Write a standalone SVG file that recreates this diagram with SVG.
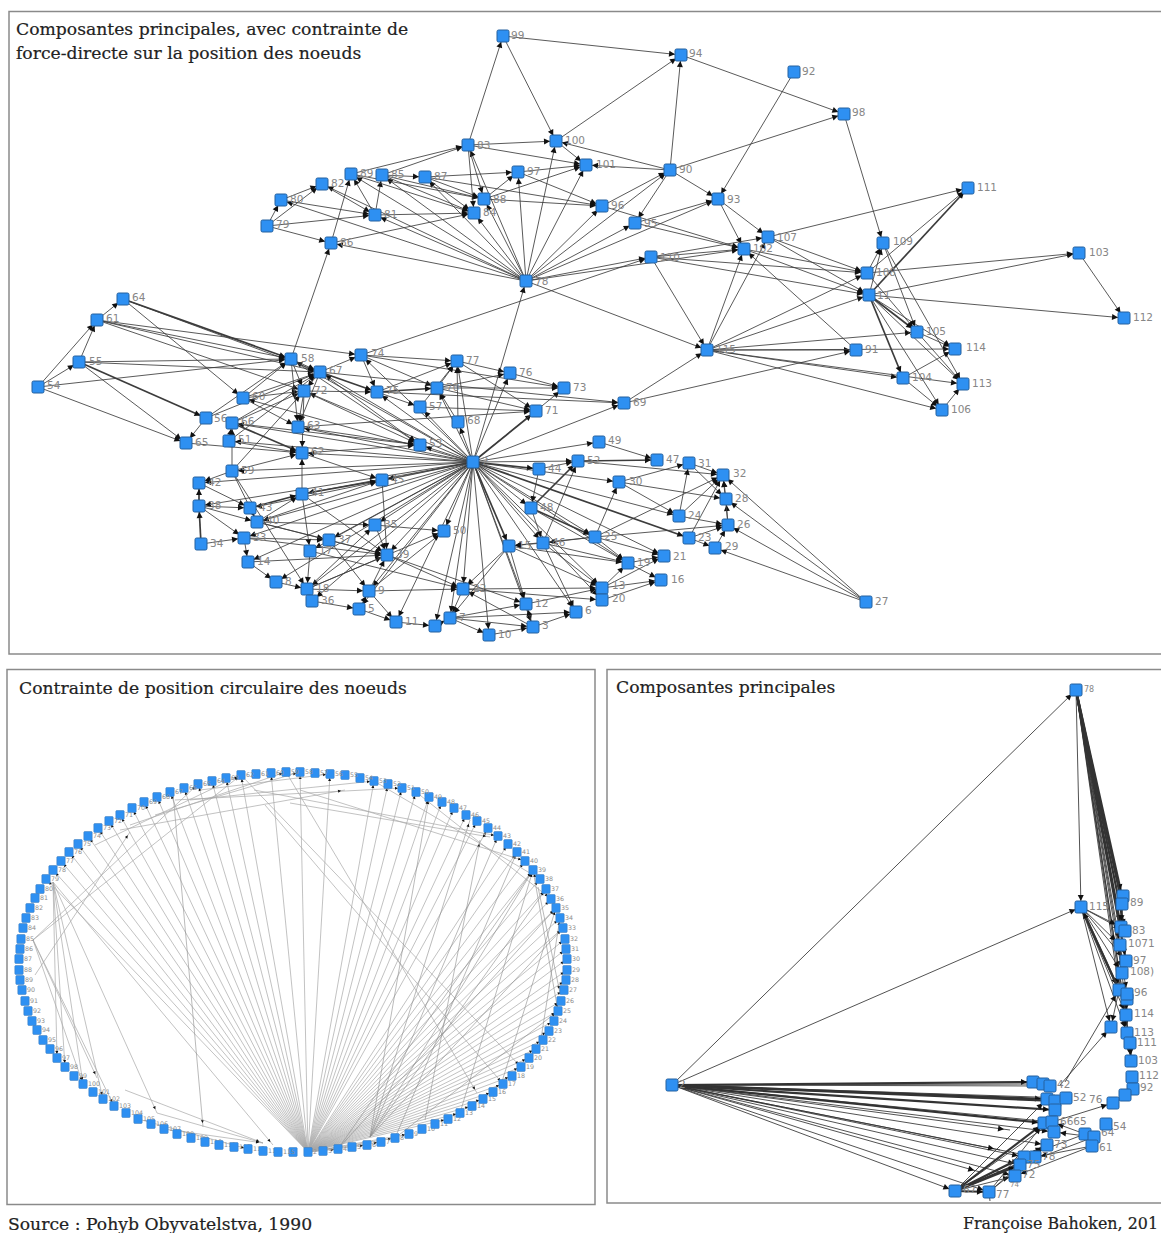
<svg xmlns="http://www.w3.org/2000/svg" width="1161" height="1233" viewBox="0 0 1161 1233">
<style>
.t{font-family:"DejaVu Serif","Liberation Serif",serif;font-size:17.2px;fill:#222;stroke:#222;stroke-width:.2}
.fr{fill:none;stroke:#8a8a8a;stroke-width:1.5}
.nl text{font-family:"DejaVu Sans",sans-serif;font-size:10.5px;fill:#868686}
#cn text{font-family:"DejaVu Sans",sans-serif;font-size:6.3px;fill:#8c8c8c}
#tc path{fill:none;stroke:#3c3c3c;stroke-width:.85;marker-end:url(#a)}
#tc path.h{stroke-width:1.7}
#cc path{fill:none;stroke:#a8a8a8;stroke-width:.7;marker-end:url(#b)}
#cc path.d{stroke:#8c8c8c;stroke-width:.6}
#rc path{fill:none;stroke:#333;stroke-width:.85;marker-end:url(#a)}
#rc path.h{stroke-width:2.2}
</style>
<defs>
<rect id="s" x="-6" y="-6" width="12" height="12" rx="1.6" fill="#2e90f2" stroke="#24609e" stroke-width="1"/>
<rect id="q" x="-4.2" y="-4.5" width="8.4" height="9" rx="1" fill="#2e90f2" stroke="#3a78b8" stroke-width=".5"/>
<marker id="a" markerUnits="userSpaceOnUse" markerWidth="6" markerHeight="6" refX="12" refY="3" orient="auto" overflow="visible"><path d="M0 0L6 3L0 6z" fill="#111"/></marker>
<marker id="b" markerUnits="userSpaceOnUse" markerWidth="3" markerHeight="3" refX="7" refY="1.5" orient="auto" overflow="visible"><path d="M0 0L3 1.5L0 3z" fill="#111"/></marker>
</defs>
<rect width="1161" height="1233" fill="#fff"/>
<path class="fr" d="M1161 11.500H9V654H1161"/>
<rect class="fr" x="7" y="669.500" width="588" height="535"/>
<path class="fr" d="M1161 669.500H607V1203H1161"/>
<text class="t" x="16" y="35">Composantes principales, avec contrainte de</text>
<text class="t" x="16" y="59">force-directe sur la position des noeuds</text>
<text class="t" x="19" y="694">Contrainte de position circulaire des noeuds</text>
<text class="t" x="616" y="693">Composantes principales</text>
<text class="t" x="8" y="1230">Source : Pohyb Obyvatelstva, 1990</text>
<text class="t" x="963" y="1229" textLength="195" lengthAdjust="spacingAndGlyphs">Françoise Bahoken, 201</text>

<g id="tc">
<path d="M503 36L681 55"/><path d="M468 145L503 36"/><path d="M503 36L556 141"/><path d="M556 141L681 55"/><path d="M670 170L681 55"/><path d="M681 55L844 114"/><path d="M844 114L883 243"/><path d="M794 72L718 199"/><path d="M670 170L844 114"/><path d="M468 145L556 141"/><path d="M468 145L586 165"/><path d="M556 141L586 165"/><path d="M670 170L556 141"/><path d="M670 170L586 165"/><path d="M351 174L468 145"/><path d="M382 175L468 145"/>
<path d="M526 281L556 141"/><path d="M526 281L586 165"/><path d="M526 281L518 172"/><path d="M526 281L468 145"/><path d="M526 281L484 199"/><path d="M526 281L474 213"/><path d="M526 281L425 177"/><path d="M526 281L382 175"/><path d="M526 281L351 174"/><path d="M526 281L322 184"/><path d="M526 281L375 215"/><path d="M526 281L281 200"/><path d="M526 281L331 243"/><path d="M526 281L602 206"/><path d="M526 281L635 223"/><path d="M526 281L670 170"/><path d="M526 281L718 199"/><path d="M526 281L744 249"/><path d="M526 281L651 257"/><path d="M526 281L707 350"/><path d="M473 462L526 281"/>
<path d="M291 359L331 243"/><path d="M331 243L351 174"/><path d="M267 226L281 200"/><path d="M281 200L322 184"/><path d="M267 226L322 184"/><path d="M322 184L375 215"/><path d="M375 215L351 174"/><path d="M375 215L382 175"/><path d="M281 200L375 215"/><path d="M267 226L375 215"/><path d="M267 226L331 243"/><path d="M375 215L474 213"/><path d="M425 177L474 213"/><path d="M425 177L484 199"/><path d="M425 177L518 172"/><path d="M382 175L425 177"/><path d="M382 175L474 213"/><path d="M382 175L484 199"/><path d="M351 174L484 199"/><path d="M351 174L474 213"/><path d="M468 145L484 199"/><path d="M468 145L474 213"/><path d="M484 199L586 165"/><path d="M484 199L518 172"/><path d="M484 199L602 206"/><path d="M425 177L602 206"/><path d="M331 243L474 213"/><path d="M518 172L602 206"/><path d="M518 172L586 165"/><path d="M602 206L744 249"/><path d="M635 223L718 199"/><path d="M635 223L744 249"/><path d="M670 170L718 199"/><path d="M670 170L635 223"/><path d="M602 206L670 170"/><path d="M718 199L744 249"/><path d="M718 199L768 237"/>
<path d="M768 237L867 273"/><path d="M768 237L869 295"/><path d="M768 237L968 188"/><path d="M744 249L867 273"/><path d="M744 249L869 295"/><path d="M651 257L744 249"/><path d="M651 257L768 237"/><path d="M651 257L869 295"/><path d="M651 257L707 350"/><path d="M651 257L867 273"/><path d="M707 350L744 249"/><path d="M707 350L768 237"/><path d="M707 350L869 295"/><path d="M707 350L867 273"/><path d="M707 350L917 332"/><path d="M707 350L856 350"/><path d="M707 350L955 349"/><path d="M707 350L903 378"/><path d="M707 350L942 410"/><path d="M707 350L963 384"/><path d="M869 295L883 243"/><path d="M869 295L968 188" class="h"/><path d="M867 273L968 188"/><path d="M867 273L883 243"/><path d="M869 295L1079 253"/><path d="M867 273L1079 253"/><path d="M1079 253L1124 318"/><path d="M869 295L1124 318"/><path d="M869 295L917 332" class="h"/><path d="M867 273L917 332"/><path d="M869 295L955 349"/><path d="M869 295L963 384"/><path d="M869 295L903 378" class="h"/><path d="M869 295L942 410"/><path d="M883 243L963 384"/><path d="M883 243L917 332"/><path d="M917 332L955 349"/><path d="M917 332L963 384"/><path d="M903 378L942 410"/><path d="M856 350L744 249"/><path d="M903 378L955 349"/><path d="M942 410L963 384"/><path d="M624 403L707 350"/><path d="M624 403L856 350"/><path d="M361 355L651 257"/>
<path d="M473 462L420 445"/><path d="M473 462L458 422"/><path d="M473 462L420 407"/><path d="M473 462L437 388"/><path d="M473 462L377 392"/><path d="M473 462L457 361"/><path d="M473 462L510 373"/><path d="M473 462L536 411" class="h"/><path d="M473 462L624 403"/><path d="M473 462L361 355"/><path d="M473 462L564 388"/><path d="M473 462L320 372"/><path d="M473 462L304 391"/><path d="M473 462L291 359"/><path d="M473 462L243 398"/><path d="M473 462L298 427"/><path d="M473 462L302 453"/><path d="M473 462L232 423"/><path d="M473 462L229 441"/><path d="M473 462L232 471"/><path d="M473 462L382 480"/><path d="M473 462L302 494"/><path d="M473 462L250 508"/><path d="M473 462L257 522"/><path d="M473 462L244 538"/><path d="M473 462L199 506"/><path d="M473 462L199 483"/><path d="M473 462L375 525"/><path d="M473 462L444 531"/><path d="M473 462L329 540"/><path d="M473 462L310 551"/><path d="M473 462L387 555"/><path d="M473 462L248 562"/><path d="M473 462L307 589"/><path d="M473 462L276 582"/><path d="M473 462L312 601"/><path d="M473 462L369 591"/><path d="M473 462L359 609"/><path d="M473 462L396 622"/><path d="M473 462L435 626"/><path d="M473 462L450 618"/><path d="M473 462L489 635"/><path d="M473 462L463 589"/><path d="M473 462L533 627"/><path d="M473 462L526 604"/><path d="M473 462L576 612"/><path d="M473 462L509 546" class="h"/><path d="M473 462L543 543"/><path d="M473 462L531 508"/><path d="M473 462L539 469" class="h"/><path d="M473 462L578 461"/><path d="M473 462L599 442"/><path d="M473 462L619 482"/><path d="M473 462L595 537"/><path d="M473 462L679 516"/><path d="M473 462L689 538" class="h"/><path d="M473 462L602 588"/><path d="M473 462L602 600"/><path d="M473 462L628 563"/><path d="M473 462L664 556"/>
<path d="M38 387L97 320"/><path d="M38 387L79 362"/><path d="M79 362L97 320"/><path d="M97 320L123 299"/><path d="M38 387L186 443"/><path d="M123 299L291 359" class="h"/><path d="M123 299L320 372"/><path d="M123 299L243 398"/><path d="M97 320L291 359"/><path d="M97 320L320 372"/><path d="M97 320L304 391"/><path d="M97 320L361 355"/><path d="M79 362L291 359"/><path d="M79 362L320 372"/><path d="M79 362L206 418" class="h"/><path d="M79 362L186 443"/><path d="M206 418L186 443"/><path d="M38 387L291 359"/><path d="M243 398L291 359"/><path d="M243 398L320 372"/><path d="M243 398L304 391"/><path d="M243 398L298 427"/><path d="M206 418L291 359"/><path d="M206 418L320 372"/><path d="M232 423L320 372"/><path d="M232 423L304 391"/><path d="M232 423L302 453" class="h"/><path d="M232 423L420 445"/><path d="M229 441L302 453"/><path d="M186 443L302 453"/><path d="M229 441L320 372"/><path d="M232 471L304 391"/><path d="M232 471L302 453"/><path d="M232 471L232 423"/><path d="M229 441L232 423"/><path d="M291 359L320 372"/><path d="M291 359L304 391"/><path d="M291 359L298 427"/><path d="M304 391L298 427"/><path d="M320 372L304 391"/><path d="M320 372L298 427"/><path d="M320 372L377 392" class="h"/><path d="M320 372L361 355"/><path d="M361 355L457 361"/><path d="M361 355L377 392"/><path d="M361 355L437 388"/><path d="M361 355L564 388"/><path d="M377 392L437 388" class="h"/><path d="M377 392L420 407"/><path d="M377 392L457 361"/><path d="M437 388L457 361"/><path d="M420 407L457 361"/><path d="M458 422L457 361"/><path d="M458 422L437 388"/><path d="M437 388L510 373"/><path d="M510 373L564 388"/><path d="M457 361L510 373"/><path d="M457 361L536 411"/><path d="M437 388L536 411"/><path d="M437 388L564 388"/><path d="M420 407L536 411"/><path d="M377 392L624 403"/><path d="M320 372L624 403"/><path d="M304 391L420 445"/><path d="M298 427L420 445"/><path d="M298 427L536 411"/><path d="M304 391L377 392"/><path d="M304 391L302 453"/><path d="M291 359L420 445"/><path d="M320 372L420 445"/><path d="M302 453L420 445"/><path d="M302 453L382 480"/><path d="M302 494L302 453"/><path d="M302 494L382 480" class="h"/><path d="M232 471L199 483"/><path d="M199 483L250 508"/><path d="M199 506L199 483" class="h"/><path d="M201 544L199 506" class="h"/><path d="M199 506L250 508"/><path d="M199 506L257 522"/><path d="M199 506L244 538"/><path d="M250 508L302 494" class="h"/><path d="M257 522L302 494"/><path d="M257 522L382 480"/><path d="M257 522L375 525"/><path d="M257 522L329 540"/><path d="M201 544L244 538"/><path d="M244 538L248 562"/><path d="M248 562L276 582"/><path d="M276 582L307 589"/><path d="M307 589L312 601"/><path d="M312 601L359 609"/><path d="M359 609L369 591"/><path d="M359 609L396 622"/><path d="M369 591L396 622"/><path d="M307 589L369 591"/><path d="M232 471L257 522"/><path d="M232 471L307 589"/><path d="M310 551L307 589"/><path d="M302 494L310 551"/><path d="M244 538L329 540"/><path d="M244 538L387 555"/><path d="M329 540L387 555"/><path d="M329 540L369 591"/><path d="M248 562L387 555"/><path d="M257 522L387 555"/><path d="M302 494L387 555"/><path d="M382 480L387 555"/><path d="M375 525L387 555"/><path d="M375 525L444 531"/><path d="M307 589L387 555"/><path d="M307 589L375 525"/><path d="M307 589L444 531"/><path d="M369 591L387 555"/><path d="M369 591L444 531"/><path d="M369 591L463 589"/><path d="M310 551L463 589"/><path d="M387 555L463 589"/><path d="M387 555L526 604"/>
<path d="M396 622L435 626"/><path d="M435 626L450 618"/><path d="M450 618L489 635"/><path d="M450 618L533 627"/><path d="M450 618L526 604"/><path d="M450 618L576 612"/><path d="M489 635L533 627"/><path d="M533 627L526 604"/><path d="M533 627L576 612"/><path d="M526 604L602 588"/><path d="M463 589L602 588"/><path d="M463 589L602 600"/><path d="M463 589L450 618"/><path d="M533 627L463 589"/><path d="M509 546L463 589"/><path d="M509 546L526 604"/><path d="M509 546L450 618"/><path d="M543 543L509 546"/><path d="M509 546L628 563"/><path d="M509 546L602 588"/><path d="M543 543L602 588"/><path d="M543 543L576 612"/><path d="M543 543L628 563"/><path d="M595 537L543 543"/><path d="M595 537L509 546"/><path d="M595 537L619 482"/><path d="M595 537L664 556"/><path d="M595 537L628 563"/><path d="M531 508L595 537" class="h"/><path d="M539 469L531 508"/><path d="M539 469L578 461"/><path d="M531 508L578 461" class="h"/><path d="M543 543L578 461"/><path d="M531 508L543 543"/><path d="M578 461L657 460" class="h"/><path d="M599 442L657 460"/><path d="M578 461L723 475"/><path d="M619 482L689 463"/><path d="M619 482L679 516"/><path d="M619 482L726 499"/><path d="M679 516L689 463"/><path d="M679 516L723 475"/><path d="M679 516L728 525"/><path d="M689 538L723 475"/><path d="M689 538L728 525"/><path d="M689 538L715 548"/><path d="M715 548L728 525"/><path d="M728 525L726 499"/><path d="M728 525L723 475"/><path d="M726 499L723 475"/><path d="M689 463L723 475"/><path d="M689 463L726 499"/><path d="M595 537L723 475"/><path d="M595 537L728 525"/><path d="M866 602L726 499"/><path d="M866 602L723 475"/><path d="M866 602L728 525"/><path d="M866 602L715 548"/><path d="M628 563L664 556"/><path d="M602 588L664 556"/><path d="M602 600L661 580"/><path d="M602 588L661 580"/><path d="M628 563L661 580"/><path d="M602 588L628 563"/><path d="M602 600L602 588"/><path d="M531 508L628 563"/>
</g>

<g id="tn" class="nl">
<g id="n99"><use href="#s" x="503" y="36"/><text x="511" y="39">99</text></g>
<g id="n94"><use href="#s" x="681" y="55"/><text x="689" y="57">94</text></g>
<g id="n92"><use href="#s" x="794" y="72"/><text x="802" y="75">92</text></g>
<g id="n98"><use href="#s" x="844" y="114"/><text x="852" y="116">98</text></g>
<g id="n83"><use href="#s" x="468" y="145"/><text x="477" y="149">83</text></g>
<g id="n100"><use href="#s" x="556" y="141"/><text x="565" y="144">100</text></g>
<g id="n101"><use href="#s" x="586" y="165"/><text x="596" y="168">101</text></g>
<g id="n90"><use href="#s" x="670" y="170"/><text x="679" y="173">90</text></g>
<g id="n97"><use href="#s" x="518" y="172"/><text x="527" y="175">97</text></g>
<g id="n89"><use href="#s" x="351" y="174"/><text x="360" y="177">89</text></g>
<g id="n85"><use href="#s" x="382" y="175"/><text x="391" y="178">85</text></g>
<g id="n87"><use href="#s" x="425" y="177"/><text x="434" y="180">87</text></g>
<g id="n82"><use href="#s" x="322" y="184"/><text x="331" y="187">82</text></g>
<g id="n80"><use href="#s" x="281" y="200"/><text x="290" y="203">80</text></g>
<g id="n88"><use href="#s" x="484" y="199"/><text x="493" y="203">88</text></g>
<g id="n93"><use href="#s" x="718" y="199"/><text x="727" y="203">93</text></g>
<g id="n96"><use href="#s" x="602" y="206"/><text x="611" y="209">96</text></g>
<g id="n81"><use href="#s" x="375" y="215"/><text x="384" y="218">81</text></g>
<g id="n84"><use href="#s" x="474" y="213"/><text x="483" y="216">84</text></g>
<g id="n95"><use href="#s" x="635" y="223"/><text x="644" y="227">95</text></g>
<g id="n79"><use href="#s" x="267" y="226"/><text x="276" y="228">79</text></g>
<g id="n86"><use href="#s" x="331" y="243"/><text x="340" y="246">86</text></g>
<g id="n111"><use href="#s" x="968" y="188"/><text x="977" y="191">111</text></g>
<g id="n109"><use href="#s" x="883" y="243"/><text x="893" y="245">109</text></g>
<g id="n107"><use href="#s" x="768" y="237"/><text x="777" y="241">107</text></g>
<g id="n102"><use href="#s" x="744" y="249"/><text x="753" y="252">102</text></g>
<g id="n110"><use href="#s" x="651" y="257"/><text x="660" y="261">110</text></g>
<g id="n103"><use href="#s" x="1079" y="253"/><text x="1089" y="256">103</text></g>
<g id="n108"><use href="#s" x="867" y="273"/><text x="876" y="276">108</text></g>
<g id="n78"><use href="#s" x="526" y="281"/><text x="535" y="285">78</text></g>
<g id="n11b"><use href="#s" x="869" y="295"/><text x="877" y="299">11</text></g>
<g id="n112"><use href="#s" x="1124" y="318"/><text x="1133" y="321">112</text></g>
<g id="n105"><use href="#s" x="917" y="332"/><text x="926" y="335">105</text></g>
<g id="n64"><use href="#s" x="123" y="299"/><text x="132" y="301">64</text></g>
<g id="n61"><use href="#s" x="97" y="320"/><text x="106" y="322">61</text></g>
<g id="n115"><use href="#s" x="707" y="350"/><text x="716" y="353">115</text></g>
<g id="n91"><use href="#s" x="856" y="350"/><text x="865" y="353">91</text></g>
<g id="n114"><use href="#s" x="955" y="349"/><text x="966" y="351">114</text></g>
<g id="n58"><use href="#s" x="291" y="359"/><text x="301" y="362">58</text></g>
<g id="n74"><use href="#s" x="361" y="355"/><text x="371" y="357">74</text></g>
<g id="n77"><use href="#s" x="457" y="361"/><text x="466" y="364">77</text></g>
<g id="n67"><use href="#s" x="320" y="372"/><text x="329" y="374">67</text></g>
<g id="n55"><use href="#s" x="79" y="362"/><text x="89" y="365">55</text></g>
<g id="n54"><use href="#s" x="38" y="387"/><text x="47" y="389">54</text></g>
<g id="n76"><use href="#s" x="510" y="373"/><text x="519" y="376">76</text></g>
<g id="n104"><use href="#s" x="903" y="378"/><text x="912" y="381">104</text></g>
<g id="n113"><use href="#s" x="963" y="384"/><text x="972" y="387">113</text></g>
<g id="n73"><use href="#s" x="564" y="388"/><text x="573" y="391">73</text></g>
<g id="n75"><use href="#s" x="377" y="392"/><text x="386" y="394">75</text></g>
<g id="n70"><use href="#s" x="437" y="388"/><text x="446" y="391">70</text></g>
<g id="n72"><use href="#s" x="304" y="391"/><text x="314" y="394">72</text></g>
<g id="n60"><use href="#s" x="243" y="398"/><text x="252" y="400">60</text></g>
<g id="n57"><use href="#s" x="420" y="407"/><text x="429" y="410">57</text></g>
<g id="n69"><use href="#s" x="624" y="403"/><text x="633" y="406">69</text></g>
<g id="n106"><use href="#s" x="942" y="410"/><text x="951" y="413">106</text></g>
<g id="n71"><use href="#s" x="536" y="411"/><text x="545" y="414">71</text></g>
<g id="n56"><use href="#s" x="206" y="418"/><text x="214" y="422">56</text></g>
<g id="n66"><use href="#s" x="232" y="423"/><text x="241" y="425">66</text></g>
<g id="n68"><use href="#s" x="458" y="422"/><text x="467" y="424">68</text></g>
<g id="n63"><use href="#s" x="298" y="427"/><text x="307" y="429">63</text></g>
<g id="n65"><use href="#s" x="186" y="443"/><text x="195" y="446">65</text></g>
<g id="n51"><use href="#s" x="229" y="441"/><text x="238" y="443">51</text></g>
<g id="n53"><use href="#s" x="420" y="445"/><text x="429" y="447">53</text></g>
<g id="n49"><use href="#s" x="599" y="442"/><text x="608" y="444">49</text></g>
<g id="n62"><use href="#s" x="302" y="453"/><text x="311" y="455">62</text></g>
<g id="n2"><use href="#s" x="473" y="462"/><text x="482" y="465">2</text></g>
<g id="n47"><use href="#s" x="657" y="460"/><text x="666" y="463">47</text></g>
<g id="n31"><use href="#s" x="689" y="463"/><text x="698" y="467">31</text></g>
<g id="n52"><use href="#s" x="578" y="461"/><text x="587" y="464">52</text></g>
<g id="n44"><use href="#s" x="539" y="469"/><text x="548" y="472">44</text></g>
<g id="n32"><use href="#s" x="723" y="475"/><text x="733" y="477">32</text></g>
<g id="n59"><use href="#s" x="232" y="471"/><text x="241" y="474">59</text></g>
<g id="n45"><use href="#s" x="382" y="480"/><text x="391" y="483">45</text></g>
<g id="n30"><use href="#s" x="619" y="482"/><text x="629" y="485">30</text></g>
<g id="n42"><use href="#s" x="199" y="483"/><text x="208" y="486">42</text></g>
<g id="n28"><use href="#s" x="726" y="499"/><text x="735" y="502">28</text></g>
<g id="n41"><use href="#s" x="302" y="494"/><text x="311" y="496">41</text></g>
<g id="n38"><use href="#s" x="199" y="506"/><text x="208" y="509">38</text></g>
<g id="n43"><use href="#s" x="250" y="508"/><text x="259" y="511">43</text></g>
<g id="n40"><use href="#s" x="257" y="522"/><text x="266" y="524">40</text></g>
<g id="n48"><use href="#s" x="531" y="508"/><text x="540" y="511">48</text></g>
<g id="n24"><use href="#s" x="679" y="516"/><text x="688" y="519">24</text></g>
<g id="n26"><use href="#s" x="728" y="525"/><text x="737" y="528">26</text></g>
<g id="n35"><use href="#s" x="375" y="525"/><text x="384" y="528">35</text></g>
<g id="n50"><use href="#s" x="444" y="531"/><text x="453" y="534">50</text></g>
<g id="n25"><use href="#s" x="595" y="537"/><text x="604" y="540">25</text></g>
<g id="n33"><use href="#s" x="244" y="538"/><text x="253" y="541">33</text></g>
<g id="n34"><use href="#s" x="201" y="544"/><text x="210" y="547">34</text></g>
<g id="n37"><use href="#s" x="329" y="540"/><text x="338" y="543">37</text></g>
<g id="n17"><use href="#s" x="310" y="551"/><text x="319" y="554">17</text></g>
<g id="n39"><use href="#s" x="387" y="555"/><text x="396" y="558">39</text></g>
<g id="n15"><use href="#s" x="509" y="546"/><text x="518" y="549">15</text></g>
<g id="n46"><use href="#s" x="543" y="543"/><text x="552" y="546">46</text></g>
<g id="n23"><use href="#s" x="689" y="538"/><text x="698" y="541">23</text></g>
<g id="n29"><use href="#s" x="715" y="548"/><text x="725" y="550">29</text></g>
<g id="n14"><use href="#s" x="248" y="562"/><text x="257" y="565">14</text></g>
<g id="n19"><use href="#s" x="628" y="563"/><text x="637" y="566">19</text></g>
<g id="n21"><use href="#s" x="664" y="556"/><text x="673" y="560">21</text></g>
<g id="n16"><use href="#s" x="661" y="580"/><text x="671" y="583">16</text></g>
<g id="n8"><use href="#s" x="276" y="582"/><text x="285" y="585">8</text></g>
<g id="n18"><use href="#s" x="307" y="589"/><text x="316" y="592">18</text></g>
<g id="n9"><use href="#s" x="369" y="591"/><text x="378" y="594">9</text></g>
<g id="n36"><use href="#s" x="312" y="601"/><text x="321" y="604">36</text></g>
<g id="n22"><use href="#s" x="463" y="589"/><text x="473" y="592">22</text></g>
<g id="n13"><use href="#s" x="602" y="588"/><text x="612" y="589">13</text></g>
<g id="n20"><use href="#s" x="602" y="600"/><text x="612" y="602">20</text></g>
<g id="n5"><use href="#s" x="359" y="609"/><text x="368" y="612">5</text></g>
<g id="n12"><use href="#s" x="526" y="604"/><text x="535" y="607">12</text></g>
<g id="n6"><use href="#s" x="576" y="612"/><text x="585" y="614">6</text></g>
<g id="n27"><use href="#s" x="866" y="602"/><text x="875" y="605">27</text></g>
<g id="n7"><use href="#s" x="450" y="618"/><text x="459" y="621">7</text></g>
<g id="n11"><use href="#s" x="396" y="622"/><text x="405" y="625">11</text></g>
<g id="n4"><use href="#s" x="435" y="626"/></g>
<g id="n3"><use href="#s" x="533" y="627"/><text x="542" y="629">3</text></g>
<g id="n10"><use href="#s" x="489" y="635"/><text x="498" y="638">10</text></g>
</g>

<g id="cc">
<path d="M308 1152L338 1149"/><path d="M308 1152L367 1145"/><path d="M308 1152L381 1142"/><path d="M308 1152L395 1138"/><path d="M308 1152L409 1134"/><path d="M308 1152L448 1119"/><path d="M308 1152L460 1113"/><path d="M308 1152L472 1106"/><path d="M308 1152L483 1099"/><path d="M308 1152L493 1092"/><path d="M308 1152L503 1084"/><path d="M308 1152L512 1076"/><path d="M308 1152L521 1067"/><path d="M308 1152L529 1058"/><path d="M308 1152L536 1049"/><path d="M308 1152L543 1040"/><path d="M308 1152L549 1031"/><path d="M308 1152L554 1021"/><path d="M308 1152L558 1011"/><path d="M308 1152L561 1001"/><path d="M308 1152L564 990"/><path d="M308 1152L566 980"/><path d="M308 1152L567 970"/><path d="M308 1152L567 959"/><path d="M308 1152L566 949"/><path d="M308 1152L565 939"/><path d="M308 1152L563 928"/><path d="M308 1152L560 918"/><path d="M308 1152L556 908"/><path d="M308 1152L551 899"/><path d="M308 1152L546 889"/><path d="M308 1152L540 879"/><path d="M308 1152L533 870"/><path d="M308 1152L525 861"/><path d="M308 1152L517 852"/><path d="M308 1152L508 844"/><path d="M308 1152L488 828"/><path d="M308 1152L477 821"/><path d="M308 1152L466 815"/><path d="M308 1152L454 808"/><path d="M308 1152L442 802"/><path d="M308 1152L429 797"/><path d="M308 1152L416 792"/><path d="M308 1152L402 788"/><path d="M308 1152L388 784"/><path d="M308 1152L374 781"/><path d="M308 1152L330 774"/><path d="M308 1152L300 772"/><path d="M308 1152L271 773"/><path d="M308 1152L241 775"/><path d="M308 1152L226 778"/><path d="M308 1152L212 781"/><path d="M308 1152L198 784"/><path d="M308 1152L184 788"/><path d="M308 1152L170 792"/><path d="M308 1152L157 797"/><path d="M308 1152L144 802"/><path d="M308 1152L132 808"/><path d="M308 1152L120 815"/><path d="M308 1152L109 821"/><path d="M308 1152L98 828"/><path d="M308 1152L88 836"/><path d="M308 1152L78 844"/><path d="M308 1152L69 852"/><path d="M308 1152L61 861"/><path d="M308 1152L53 870"/><path d="M308 1152L46 879"/>
<path d="M53 882L157 1113"/><path d="M53 882L103 1099"/><path d="M53 882L83 1084"/><path d="M53 882L65 1067"/><path d="M53 882L57 1058"/><path d="M53 882L273 1145"/><path d="M33 940L241 775"/><path d="M33 940L198 784"/><path d="M35 975L130 832"/><path d="M173 793L203 1127" class="d"/><path d="M33 940L97 1078"/><path d="M33 940L83 1084"/><path d="M33 940L114 1106"/><path d="M265 805L503 1084"/><path d="M286 772L477 1093"/><path d="M241 775L521 1067"/><path d="M157 1113L263 1143"/><path d="M164 1129L263 1143"/><path d="M125 1090L263 1143"/><path d="M138 1119L248 1149"/>
<path d="M370 1137L533 870" class="d"/><path d="M370 1137L470 820" class="d"/><path d="M370 1137L429 797" class="d"/><path d="M370 1137L498 836" class="d"/><path d="M370 1137L546 889" class="d"/><path d="M370 1137L563 928" class="d"/><path d="M395 1138L517 852" class="d"/><path d="M395 1138L558 1011" class="d"/><path d="M338 1149L533 870" class="d"/><path d="M338 1149L556 908" class="d"/><path d="M425 1120L480 840" class="d"/><path d="M460 1113L533 870" class="d"/><path d="M500 1088L556 908" class="d"/><path d="M540 1045L560 918" class="d"/><path d="M538 887L560 993" class="d"/><path d="M533 870L558 1011" class="d"/><path d="M290 803L490 837"/><path d="M175 800L402 788"/><path d="M120 830L345 790"/><path d="M190 800L374 781"/><path d="M155 815L300 772"/><path d="M130 825L286 772"/><path d="M95 845L241 775"/><path d="M200 790L330 774"/><path d="M254 790L498 836"/><path d="M300 790L525 861"/><path d="M374 781L540 879"/><path d="M416 792L551 899"/>
</g>

<g id="cn">
<g id="c1"><use href="#q" x="293" y="1152"/></g>
<g id="c2"><use href="#q" x="308" y="1152"/><text x="313" y="1154">2</text></g>
<g id="c3"><use href="#q" x="323" y="1151"/><text x="328" y="1153">3</text></g>
<g id="c4"><use href="#q" x="338" y="1149"/><text x="343" y="1151">4</text></g>
<g id="c5"><use href="#q" x="352" y="1147"/><text x="357" y="1149">5</text></g>
<g id="c6"><use href="#q" x="367" y="1145"/><text x="372" y="1147">6</text></g>
<g id="c7"><use href="#q" x="381" y="1142"/><text x="386" y="1144">7</text></g>
<g id="c8"><use href="#q" x="395" y="1138"/><text x="400" y="1140">8</text></g>
<g id="c9"><use href="#q" x="409" y="1134"/><text x="414" y="1136">9</text></g>
<g id="c10"><use href="#q" x="422" y="1129"/><text x="427" y="1131">10</text></g>
<g id="c11"><use href="#q" x="435" y="1124"/><text x="440" y="1126">11</text></g>
<g id="c12"><use href="#q" x="448" y="1119"/><text x="453" y="1121">12</text></g>
<g id="c13"><use href="#q" x="460" y="1113"/><text x="465" y="1115">13</text></g>
<g id="c14"><use href="#q" x="472" y="1106"/><text x="477" y="1108">14</text></g>
<g id="c15"><use href="#q" x="483" y="1099"/><text x="488" y="1101">15</text></g>
<g id="c16"><use href="#q" x="493" y="1092"/><text x="498" y="1094">16</text></g>
<g id="c17"><use href="#q" x="503" y="1084"/><text x="508" y="1086">17</text></g>
<g id="c18"><use href="#q" x="512" y="1076"/><text x="517" y="1078">18</text></g>
<g id="c19"><use href="#q" x="521" y="1067"/><text x="526" y="1069">19</text></g>
<g id="c20"><use href="#q" x="529" y="1058"/><text x="534" y="1060">20</text></g>
<g id="c21"><use href="#q" x="536" y="1049"/><text x="541" y="1051">21</text></g>
<g id="c22"><use href="#q" x="543" y="1040"/><text x="548" y="1042">22</text></g>
<g id="c23"><use href="#q" x="549" y="1031"/><text x="554" y="1033">23</text></g>
<g id="c24"><use href="#q" x="554" y="1021"/><text x="559" y="1023">24</text></g>
<g id="c25"><use href="#q" x="558" y="1011"/><text x="563" y="1013">25</text></g>
<g id="c26"><use href="#q" x="561" y="1001"/><text x="566" y="1003">26</text></g>
<g id="c27"><use href="#q" x="564" y="990"/><text x="569" y="992">27</text></g>
<g id="c28"><use href="#q" x="566" y="980"/><text x="571" y="982">28</text></g>
<g id="c29"><use href="#q" x="567" y="970"/><text x="572" y="972">29</text></g>
<g id="c30"><use href="#q" x="567" y="959"/><text x="572" y="961">30</text></g>
<g id="c31"><use href="#q" x="566" y="949"/><text x="571" y="951">31</text></g>
<g id="c32"><use href="#q" x="565" y="939"/><text x="570" y="941">32</text></g>
<g id="c33"><use href="#q" x="563" y="928"/><text x="568" y="930">33</text></g>
<g id="c34"><use href="#q" x="560" y="918"/><text x="565" y="920">34</text></g>
<g id="c35"><use href="#q" x="556" y="908"/><text x="561" y="910">35</text></g>
<g id="c36"><use href="#q" x="551" y="899"/><text x="556" y="901">36</text></g>
<g id="c37"><use href="#q" x="546" y="889"/><text x="551" y="891">37</text></g>
<g id="c38"><use href="#q" x="540" y="879"/><text x="545" y="881">38</text></g>
<g id="c39"><use href="#q" x="533" y="870"/><text x="538" y="872">39</text></g>
<g id="c40"><use href="#q" x="525" y="861"/><text x="530" y="863">40</text></g>
<g id="c41"><use href="#q" x="517" y="852"/><text x="522" y="854">41</text></g>
<g id="c42"><use href="#q" x="508" y="844"/><text x="513" y="846">42</text></g>
<g id="c43"><use href="#q" x="498" y="836"/><text x="503" y="838">43</text></g>
<g id="c44"><use href="#q" x="488" y="828"/><text x="493" y="830">44</text></g>
<g id="c45"><use href="#q" x="477" y="821"/><text x="482" y="823">45</text></g>
<g id="c46"><use href="#q" x="466" y="815"/><text x="471" y="817">46</text></g>
<g id="c47"><use href="#q" x="454" y="808"/><text x="459" y="810">47</text></g>
<g id="c48"><use href="#q" x="442" y="802"/><text x="447" y="804">48</text></g>
<g id="c49"><use href="#q" x="429" y="797"/><text x="434" y="799">49</text></g>
<g id="c50"><use href="#q" x="416" y="792"/><text x="421" y="794">50</text></g>
<g id="c51"><use href="#q" x="402" y="788"/><text x="407" y="790">51</text></g>
<g id="c52"><use href="#q" x="388" y="784"/><text x="393" y="786">52</text></g>
<g id="c53"><use href="#q" x="374" y="781"/><text x="379" y="783">53</text></g>
<g id="c54"><use href="#q" x="360" y="778"/><text x="365" y="780">54</text></g>
<g id="c55"><use href="#q" x="345" y="775"/><text x="350" y="777">55</text></g>
<g id="c56"><use href="#q" x="330" y="774"/><text x="335" y="776">56</text></g>
<g id="c57"><use href="#q" x="315" y="773"/><text x="320" y="775">57</text></g>
<g id="c58"><use href="#q" x="300" y="772"/><text x="305" y="774">58</text></g>
<g id="c59"><use href="#q" x="286" y="772"/><text x="291" y="774">59</text></g>
<g id="c60"><use href="#q" x="271" y="773"/><text x="276" y="775">60</text></g>
<g id="c61"><use href="#q" x="256" y="774"/><text x="261" y="776">61</text></g>
<g id="c62"><use href="#q" x="241" y="775"/><text x="246" y="777">62</text></g>
<g id="c63"><use href="#q" x="226" y="778"/><text x="231" y="780">63</text></g>
<g id="c64"><use href="#q" x="212" y="781"/><text x="217" y="783">64</text></g>
<g id="c65"><use href="#q" x="198" y="784"/><text x="203" y="786">65</text></g>
<g id="c66"><use href="#q" x="184" y="788"/><text x="189" y="790">66</text></g>
<g id="c67"><use href="#q" x="170" y="792"/><text x="175" y="794">67</text></g>
<g id="c68"><use href="#q" x="157" y="797"/><text x="162" y="799">68</text></g>
<g id="c69"><use href="#q" x="144" y="802"/><text x="149" y="804">69</text></g>
<g id="c70"><use href="#q" x="132" y="808"/><text x="137" y="810">70</text></g>
<g id="c71"><use href="#q" x="120" y="815"/><text x="125" y="817">71</text></g>
<g id="c72"><use href="#q" x="109" y="821"/><text x="114" y="823">72</text></g>
<g id="c73"><use href="#q" x="98" y="828"/><text x="103" y="830">73</text></g>
<g id="c74"><use href="#q" x="88" y="836"/><text x="93" y="838">74</text></g>
<g id="c75"><use href="#q" x="78" y="844"/><text x="83" y="846">75</text></g>
<g id="c76"><use href="#q" x="69" y="852"/><text x="74" y="854">76</text></g>
<g id="c77"><use href="#q" x="61" y="861"/><text x="66" y="863">77</text></g>
<g id="c78"><use href="#q" x="53" y="870"/><text x="58" y="872">78</text></g>
<g id="c79"><use href="#q" x="46" y="879"/><text x="51" y="881">79</text></g>
<g id="c80"><use href="#q" x="40" y="889"/><text x="45" y="891">80</text></g>
<g id="c81"><use href="#q" x="35" y="898"/><text x="40" y="900">81</text></g>
<g id="c82"><use href="#q" x="30" y="908"/><text x="35" y="910">82</text></g>
<g id="c83"><use href="#q" x="26" y="918"/><text x="31" y="920">83</text></g>
<g id="c84"><use href="#q" x="23" y="928"/><text x="28" y="930">84</text></g>
<g id="c85"><use href="#q" x="21" y="939"/><text x="26" y="941">85</text></g>
<g id="c86"><use href="#q" x="20" y="949"/><text x="25" y="951">86</text></g>
<g id="c87"><use href="#q" x="19" y="959"/><text x="24" y="961">87</text></g>
<g id="c88"><use href="#q" x="19" y="970"/><text x="24" y="972">88</text></g>
<g id="c89"><use href="#q" x="20" y="980"/><text x="25" y="982">89</text></g>
<g id="c90"><use href="#q" x="22" y="990"/><text x="27" y="992">90</text></g>
<g id="c91"><use href="#q" x="25" y="1001"/><text x="30" y="1003">91</text></g>
<g id="c92"><use href="#q" x="28" y="1011"/><text x="33" y="1013">92</text></g>
<g id="c93"><use href="#q" x="32" y="1021"/><text x="37" y="1023">93</text></g>
<g id="c94"><use href="#q" x="37" y="1030"/><text x="42" y="1032">94</text></g>
<g id="c95"><use href="#q" x="43" y="1040"/><text x="48" y="1042">95</text></g>
<g id="c96"><use href="#q" x="50" y="1049"/><text x="55" y="1051">96</text></g>
<g id="c97"><use href="#q" x="57" y="1058"/><text x="62" y="1060">97</text></g>
<g id="c98"><use href="#q" x="65" y="1067"/><text x="70" y="1069">98</text></g>
<g id="c99"><use href="#q" x="74" y="1076"/><text x="79" y="1078">99</text></g>
<g id="c100"><use href="#q" x="83" y="1084"/><text x="88" y="1086">100</text></g>
<g id="c101"><use href="#q" x="93" y="1092"/><text x="98" y="1094">101</text></g>
<g id="c102"><use href="#q" x="103" y="1099"/><text x="108" y="1101">102</text></g>
<g id="c103"><use href="#q" x="114" y="1106"/><text x="119" y="1108">103</text></g>
<g id="c104"><use href="#q" x="126" y="1113"/><text x="131" y="1115">104</text></g>
<g id="c105"><use href="#q" x="138" y="1119"/><text x="143" y="1121">105</text></g>
<g id="c106"><use href="#q" x="151" y="1124"/><text x="156" y="1126">106</text></g>
<g id="c107"><use href="#q" x="164" y="1129"/><text x="169" y="1131">107</text></g>
<g id="c108"><use href="#q" x="177" y="1134"/><text x="182" y="1136">108</text></g>
<g id="c109"><use href="#q" x="191" y="1138"/><text x="196" y="1140">109</text></g>
<g id="c110"><use href="#q" x="205" y="1142"/><text x="210" y="1144">110</text></g>
<g id="c111"><use href="#q" x="219" y="1145"/><text x="224" y="1147">111</text></g>
<g id="c112"><use href="#q" x="234" y="1147"/><text x="239" y="1149">112</text></g>
<g id="c113"><use href="#q" x="248" y="1149"/><text x="253" y="1151">113</text></g>
<g id="c114"><use href="#q" x="263" y="1151"/><text x="268" y="1153">114</text></g>
<g id="c115"><use href="#q" x="278" y="1152"/><text x="283" y="1154">115</text></g>
</g>

<g id="rc">
<path d="M672 1085L1076 690"/><path d="M672 1085L1081 907"/><path d="M1076 690L1081 907"/>
<path d="M1076 690L1122 896" class="h"/><path d="M1076 690L1122 904" class="h"/><path d="M1076 690L1121 927" class="h"/><path d="M1076 690L1125 931" class="h"/><path d="M1076 690L1120 945"/><path d="M1076 690L1126 961" class="h"/><path d="M1076 690L1122 973"/><path d="M1076 690L1127 994"/><path d="M1076 690L1119 990"/><path d="M1076 690L1126 1015"/><path d="M1076 690L1127 1033"/><path d="M1076 690L1130 1043"/>
<path d="M1081 907L1119 990" class="h"/><path d="M1081 907L1122 973"/><path d="M1081 907L1126 961"/><path d="M1081 907L1120 945"/><path d="M1081 907L1125 931"/><path d="M1081 907L1121 927"/><path d="M1081 907L1126 1015"/><path d="M1081 907L1127 1033"/><path d="M1081 907L1111 1027"/><path d="M1119 990L1081 907" class="h"/>
<path d="M1119 990L1111 1027"/><path d="M1122 973L1131 1061"/><path d="M1130 1043L1131 1061" class="h"/><path d="M1127 994L1126 1015" class="h"/><path d="M1122 904L1121 927" class="h"/><path d="M1120 945L1122 973" class="h"/>
<path d="M672 1085L1033 1082" class="h"/><path d="M672 1085L1043 1084"/><path d="M672 1085L1050 1086"/><path d="M672 1085L1047 1099" class="h"/><path d="M672 1085L1055 1101" class="h"/><path d="M672 1085L1066 1098"/><path d="M672 1085L1055 1110" class="h"/><path d="M672 1085L1044 1123" class="h"/><path d="M672 1085L1052 1122"/><path d="M672 1085L1054 1132"/><path d="M672 1085L1047 1145"/><path d="M672 1085L1035 1157"/><path d="M672 1085L1024 1157"/><path d="M672 1085L1020 1165"/><path d="M672 1085L1015 1176"/><path d="M672 1085L955 1191"/><path d="M672 1085L989 1192"/><path d="M672 1085L1010 1130"/><path d="M672 1085L1000 1150"/><path d="M672 1085L980 1172"/>
<path d="M955 1191L1044 1123" class="h"/><path d="M955 1191L1052 1122"/><path d="M955 1191L1047 1099"/><path d="M955 1191L1047 1145" class="h"/><path d="M955 1191L1035 1157" class="h"/><path d="M955 1191L1024 1157"/><path d="M955 1191L1020 1165" class="h"/><path d="M955 1191L1015 1176"/><path d="M955 1191L989 1192" class="h"/><path d="M989 1192L1044 1123"/><path d="M989 1192L1047 1145"/><path d="M989 1192L1020 1165"/><path d="M989 1192L990 1201"/>
<path d="M1092 1146L1015 1176"/><path d="M1094 1137L1020 1165"/><path d="M1085 1134L1024 1157"/><path d="M1092 1146L1035 1157"/><path d="M1052 1122L1113 1103"/><path d="M1060 1085L1111 1027"/><path d="M1065 1082L1119 990"/><path d="M1085 1134L1052 1122"/><path d="M1094 1137L1054 1132"/>
</g>

<g id="rn" class="nl">
<g id="r78"><use href="#s" x="1076" y="690"/><text x="1084" y="692" style="font-size:8px">78</text></g>
<g id="r115"><use href="#s" x="1081" y="907"/><text x="1089" y="910">115</text></g>
<g id="r2"><use href="#s" x="672" y="1085"/><text x="679" y="1088">2</text></g>
<g id="r94"><use href="#s" x="1123" y="896"/></g>
<g id="r89"><use href="#s" x="1122" y="904"/><text x="1130" y="906">89</text></g>
<g id="r83a"><use href="#s" x="1121" y="927"/></g>
<g id="r83"><use href="#s" x="1125" y="931"/><text x="1132" y="934">83</text></g>
<g id="r107"><use href="#s" x="1120" y="945"/><text x="1128" y="947">1071</text></g>
<g id="r97"><use href="#s" x="1126" y="961"/><text x="1133" y="964">97</text></g>
<g id="r108"><use href="#s" x="1122" y="973"/><text x="1130" y="975">108)</text></g>
<g id="r95"><use href="#s" x="1119" y="990"/></g>
<g id="r114b"><use href="#s" x="1127" y="999"/></g>
<g id="r96"><use href="#s" x="1127" y="994"/><text x="1134" y="996">96</text></g>
<g id="r114"><use href="#s" x="1126" y="1015"/><text x="1134" y="1017">114</text></g>
<g id="r100"><use href="#s" x="1111" y="1027"/></g>
<g id="r113"><use href="#s" x="1127" y="1033"/><text x="1134" y="1036">113</text></g>
<g id="r111"><use href="#s" x="1130" y="1043"/><text x="1137" y="1046">111</text></g>
<g id="r103"><use href="#s" x="1131" y="1061"/><text x="1138" y="1064">103</text></g>
<g id="r112"><use href="#s" x="1132" y="1077"/><text x="1139" y="1079">112</text></g>
<g id="r92"><use href="#s" x="1133" y="1089"/><text x="1140" y="1091">92</text></g>
<g id="r27"><use href="#s" x="1125" y="1095"/></g>
<g id="r76"><use href="#s" x="1113" y="1103"/><text x="1089" y="1103">76</text></g>
<g id="r42a"><use href="#s" x="1033" y="1082"/></g>
<g id="r42b"><use href="#s" x="1043" y="1084"/></g>
<g id="r42"><use href="#s" x="1050" y="1086"/><text x="1057" y="1088">42</text></g>
<g id="r47"><use href="#s" x="1047" y="1099"/></g>
<g id="r55"><use href="#s" x="1055" y="1101"/></g>
<g id="r52"><use href="#s" x="1066" y="1098"/><text x="1073" y="1101">52</text></g>
<g id="r57"><use href="#s" x="1055" y="1110"/></g>
<g id="r66"><use href="#s" x="1044" y="1123"/></g>
<g id="r65"><use href="#s" x="1052" y="1122"/><text x="1060" y="1125">6665</text></g>
<g id="r62"><use href="#s" x="1054" y="1132"/></g>
<g id="r64"><use href="#s" x="1085" y="1134"/></g>
<g id="r64b"><use href="#s" x="1094" y="1137"/><text x="1101" y="1136">64</text></g>
<g id="r61"><use href="#s" x="1092" y="1146"/><text x="1099" y="1151">61</text></g>
<g id="r54"><use href="#s" x="1106" y="1124"/><text x="1113" y="1130">54</text></g>
<g id="r73"><use href="#s" x="1047" y="1145"/><text x="1054" y="1148">73</text></g>
<g id="r78b"><use href="#s" x="1035" y="1157"/><text x="1042" y="1160">78</text></g>
<g id="r79"><use href="#s" x="1024" y="1157"/></g>
<g id="r70"><use href="#s" x="1020" y="1165"/><text x="1027" y="1168">75</text></g>
<g id="r72"><use href="#s" x="1015" y="1176"/><text x="1022" y="1178">72</text></g>
<g id="r67"><use href="#s" x="955" y="1191"/><text x="963" y="1193">67</text></g>
<g id="r77"><use href="#s" x="989" y="1192"/><text x="996" y="1198">77</text></g>
<g id="r74"><text x="1010" y="1187" style="font-size:7px">74</text></g>
</g>
</svg>
